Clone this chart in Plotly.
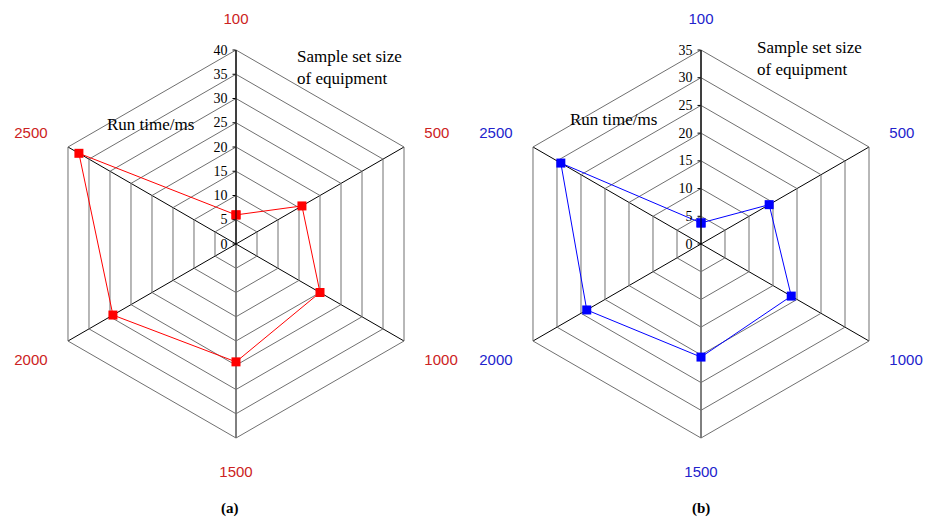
import plotly.graph_objects as go

categories = ["100", "500", "1000", "1500", "2000", "2500"]
run_time_a = [6.0, 15.7, 20.0, 24.3, 29.3, 37.4]
run_time_b = [3.8, 14.2, 18.8, 20.4, 23.8, 29.2]
radial_ticks_a = [0, 5, 10, 15, 20, 25, 30, 35, 40]
radial_ticks_b = [0, 5, 10, 15, 20, 25, 30, 35]

RED = "#ff0000"
BLUE = "#0000ff"
LBL_RED = "#cc2222"
LBL_BLUE = "#2222cc"

W, H = 925, 523
R = 194
centers = [(236, 244), (701, 244)]


def dom(cx, cy):
    return dict(x=[(cx - R) / W, (cx + R) / W],
                y=[(H - cy - R) / H, (H - cy + R) / H])


fig = go.Figure()
fig.add_trace(go.Scatterpolar(
    r=run_time_a + [run_time_a[0]], theta=categories + [categories[0]],
    mode="lines+markers", line=dict(color=RED, width=1),
    marker=dict(symbol="square", size=9, color=RED),
    subplot="polar", showlegend=False))
fig.add_trace(go.Scatterpolar(
    r=run_time_b + [run_time_b[0]], theta=categories + [categories[0]],
    mode="lines+markers", line=dict(color=BLUE, width=1),
    marker=dict(symbol="square", size=9, color=BLUE),
    subplot="polar2", showlegend=False))


def polar_cfg(cx, cy, rmax, ticks, lblcol):
    return dict(
        domain=dom(cx, cy),
        gridshape="linear",
        bgcolor="white",
        angularaxis=dict(
            categoryorder="array", categoryarray=categories,
            rotation=90, direction="clockwise",
            gridcolor="black", gridwidth=1,
            linecolor="#707070", linewidth=1, showline=True,
            ticks="outside", ticklen=20, tickcolor="rgba(0,0,0,0)",
            tickfont=dict(family="Liberation Sans, Arial", size=15, color=lblcol),
        ),
        radialaxis=dict(
            range=[0, rmax], tickvals=ticks, angle=90,
            side="counterclockwise",
            gridcolor="#707070", gridwidth=1,
            showline=True, linecolor="black", linewidth=1,
            ticks="outside", ticklen=3, tickcolor="black",
            tickfont=dict(family="Liberation Serif, Times New Roman", size=14, color="black"),
            tickangle=90,
        ),
    )


fig.update_layout(
    width=W, height=H,
    margin=dict(l=0, r=0, t=0, b=0),
    paper_bgcolor="white",
    polar=polar_cfg(*centers[0], 40, radial_ticks_a, LBL_RED),
    polar2=polar_cfg(*centers[1], 35, radial_ticks_b, LBL_BLUE),
)

serif = "Liberation Serif, Times New Roman"
ann = [
    (295, 68, "Sample set size<br>of equipment", "left", 17),
    (105, 124, "Run time/ms", "left", 17),
    (755, 58, "Sample set size<br>of equipment", "left", 17),
    (568, 120, "Run time/ms", "left", 17),
    (230, 508, "<b>(a)</b>", "center", 15),
    (701, 508, "<b>(b)</b>", "center", 15),
]
for x, y, t, al, sz in ann:
    fig.add_annotation(
        x=x / W, y=1 - y / H, xref="paper", yref="paper",
        text=t, showarrow=False, align="left",
        xanchor="left" if al == "left" else "center", yanchor="middle",
        font=dict(family=serif, size=sz, color="black"))

fig.write_html("out.html", config={"displayModeBar": False},
               post_script="document.body.style.margin='0';")
